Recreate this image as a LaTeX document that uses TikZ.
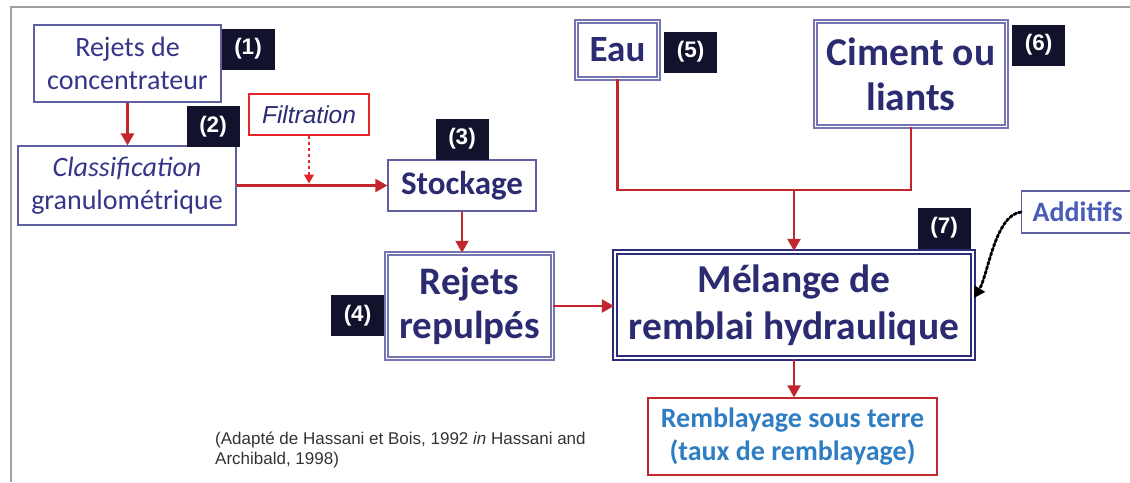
\documentclass[tikz,border=0pt]{standalone}
\usepackage{fontspec}
\setmainfont{Carlito}
\newfontfamily\arialfont{Liberation Sans}
\usetikzlibrary{arrows.meta,calc}

\definecolor{navy}{HTML}{2B2B72}
\definecolor{softnavy}{HTML}{35358A}
\definecolor{boxline}{HTML}{5E5EA0}
\definecolor{dblline}{HTML}{7575B2}
\definecolor{darkline}{HTML}{2D2D7D}
\definecolor{flowred}{HTML}{C1272D}
\definecolor{brightred}{HTML}{E5252A}
\definecolor{badgefill}{HTML}{12122C}
\definecolor{addblue}{HTML}{4A5CB8}
\definecolor{outblue}{HTML}{2F7DC2}
\definecolor{framegray}{HTML}{A0A0A0}

\tikzset{
  plainbox/.style={draw=boxline, line width=1.2pt, fill=white, inner sep=0pt,
    align=center, text=navy},
  dblbox/.style={draw=dblline, line width=1.5pt, double=white, double distance=1.4pt,
    inner sep=0pt, align=center, text=navy},
  heavybox/.style={draw=darkline, line width=2.2pt, double=white, double distance=1.6pt,
    inner sep=0pt, align=center, text=navy},
  badge/.style={fill=badgefill, text=white, inner sep=0pt, minimum width=53pt,
    minimum height=41pt, font=\arialfont\bfseries\fontsize{22.5}{22.5}\selectfont},
  flow/.style={draw=flowred, line width=2.2pt,
    -{Triangle[length=12pt,width=13pt]}},
  flowline/.style={draw=flowred, line width=2.2pt},
}

\begin{document}
\begin{tikzpicture}[x=1pt,y=-1pt]
\useasboundingbox (0,0) rectangle (1130,482);

% outer frame (top and left edges)
\draw[framegray, line width=2pt] (11,482) -- (11,7) -- (1130,7);

% boxes
\node[plainbox, minimum width=187pt, minimum height=77pt, text=softnavy,
  font=\fontsize{28}{33}\selectfont] (rej) at (127.5,63.5) {Rejets de\\concentrateur};
\node[plainbox, minimum width=218pt, minimum height=79pt, text=softnavy,
  font=\fontsize{28}{33}\selectfont] (cls) at (127,185.5) {\textit{Classification}\\granulométrique};
\node[draw=brightred, line width=1.2pt, inner sep=0pt, minimum width=120pt,
  minimum height=41pt, text=navy, font=\arialfont\itshape\fontsize{24.5}{24.5}\selectfont]
  (fil) at (309,114.5) {Filtration};
\node[plainbox, minimum width=148pt, minimum height=51pt,
  font=\bfseries\fontsize{33}{33}\selectfont] (sto) at (462,185.5) {\raisebox{-2pt}{Stockage}};
\node[dblbox, minimum width=166pt, minimum height=105pt,
  font=\bfseries\fontsize{39}{44}\selectfont] (rep) at (469.5,306) {Rejets\\repulpés};
\node[heavybox, minimum width=358pt, minimum height=106pt,
  font=\bfseries\fontsize{39.5}{47}\selectfont] (mel) at (794,305) {Mélange de\\remblai hydraulique};
\node[dblbox, minimum width=82pt, minimum height=57pt,
  font=\bfseries\fontsize{37}{37}\selectfont] (eau) at (617.5,50) {\raisebox{-2pt}{Eau}};
\node[dblbox, minimum width=191pt, minimum height=105pt,
  font=\bfseries\fontsize{39.5}{45}\selectfont] (cim) at (911,74) {Ciment ou\\liants};
\node[draw=boxline, line width=1.2pt, fill=white, inner xsep=11pt, inner ysep=0pt,
  minimum height=42pt, anchor=west, text=addblue,
  font=\bfseries\fontsize{28}{28}\selectfont] (add) at (1021,212) {Additifs};
\node[draw=flowred, line width=1.2pt, inner sep=0pt, minimum width=289pt,
  minimum height=77pt, align=center, text=outblue,
  font=\bfseries\fontsize{28}{33}\selectfont] (out) at (792.5,436.5)
  {Remblayage sous terre\\(taux de remblayage)};

% step numbers
\node[badge] (b1) at (248,49) {(1)};
\node[badge] (b2) at (213,126.5) {(2)};
\node[badge] (b3) at (462,139) {(3)};
\node[badge] (b4) at (357.5,315.5) {(4)};
\node[badge] (b5) at (690.5,52) {(5)};
\node[badge] (b6) at (1038.5,45) {(6)};
\node[badge] (b7) at (944,228) {(7)};

% source note
\node[anchor=north west, inner sep=0pt, align=left, text=black!80,
  font=\arialfont\fontsize{17}{20}\selectfont] (src) at (215,432)
  {(Adapté de Hassani et Bois, 1992 \textit{in} Hassani and\\Archibald, 1998)};

% flow connectors
\draw[flow] (rej.south) -- (rej.south |- cls.north);
\draw[flow] (cls.east |- sto.west) -- (sto.west);
\coordinate (filjoin) at (fil.south |- sto.west);
\draw[draw=brightred, line width=1.2pt, dashed,
  -{Triangle[length=9pt,width=10pt]}] (fil.south) -- ([yshift=2pt]filjoin);
\draw[flow] (sto.south) -- (sto.south |- rep.north);
\draw[flow] (rep.east) -- (rep.east -| mel.west);
\coordinate (join) at (mel.north |- 0,190);
\draw[flowline] (eau.south) -- (eau.south |- join) -- (cim.south |- join) -- (cim.south);
\draw[flow] (join) -- (mel.north);
\draw[flow] (mel.south) -- (mel.south |- out.north);
\draw[black, line width=2.8pt, dotted, line cap=round,
  -{Triangle[length=11pt,width=12pt]}]
  (add.west) .. controls (995,215) and (988,275) .. ([yshift=7pt]mel.east);
\end{tikzpicture}
\end{document}
